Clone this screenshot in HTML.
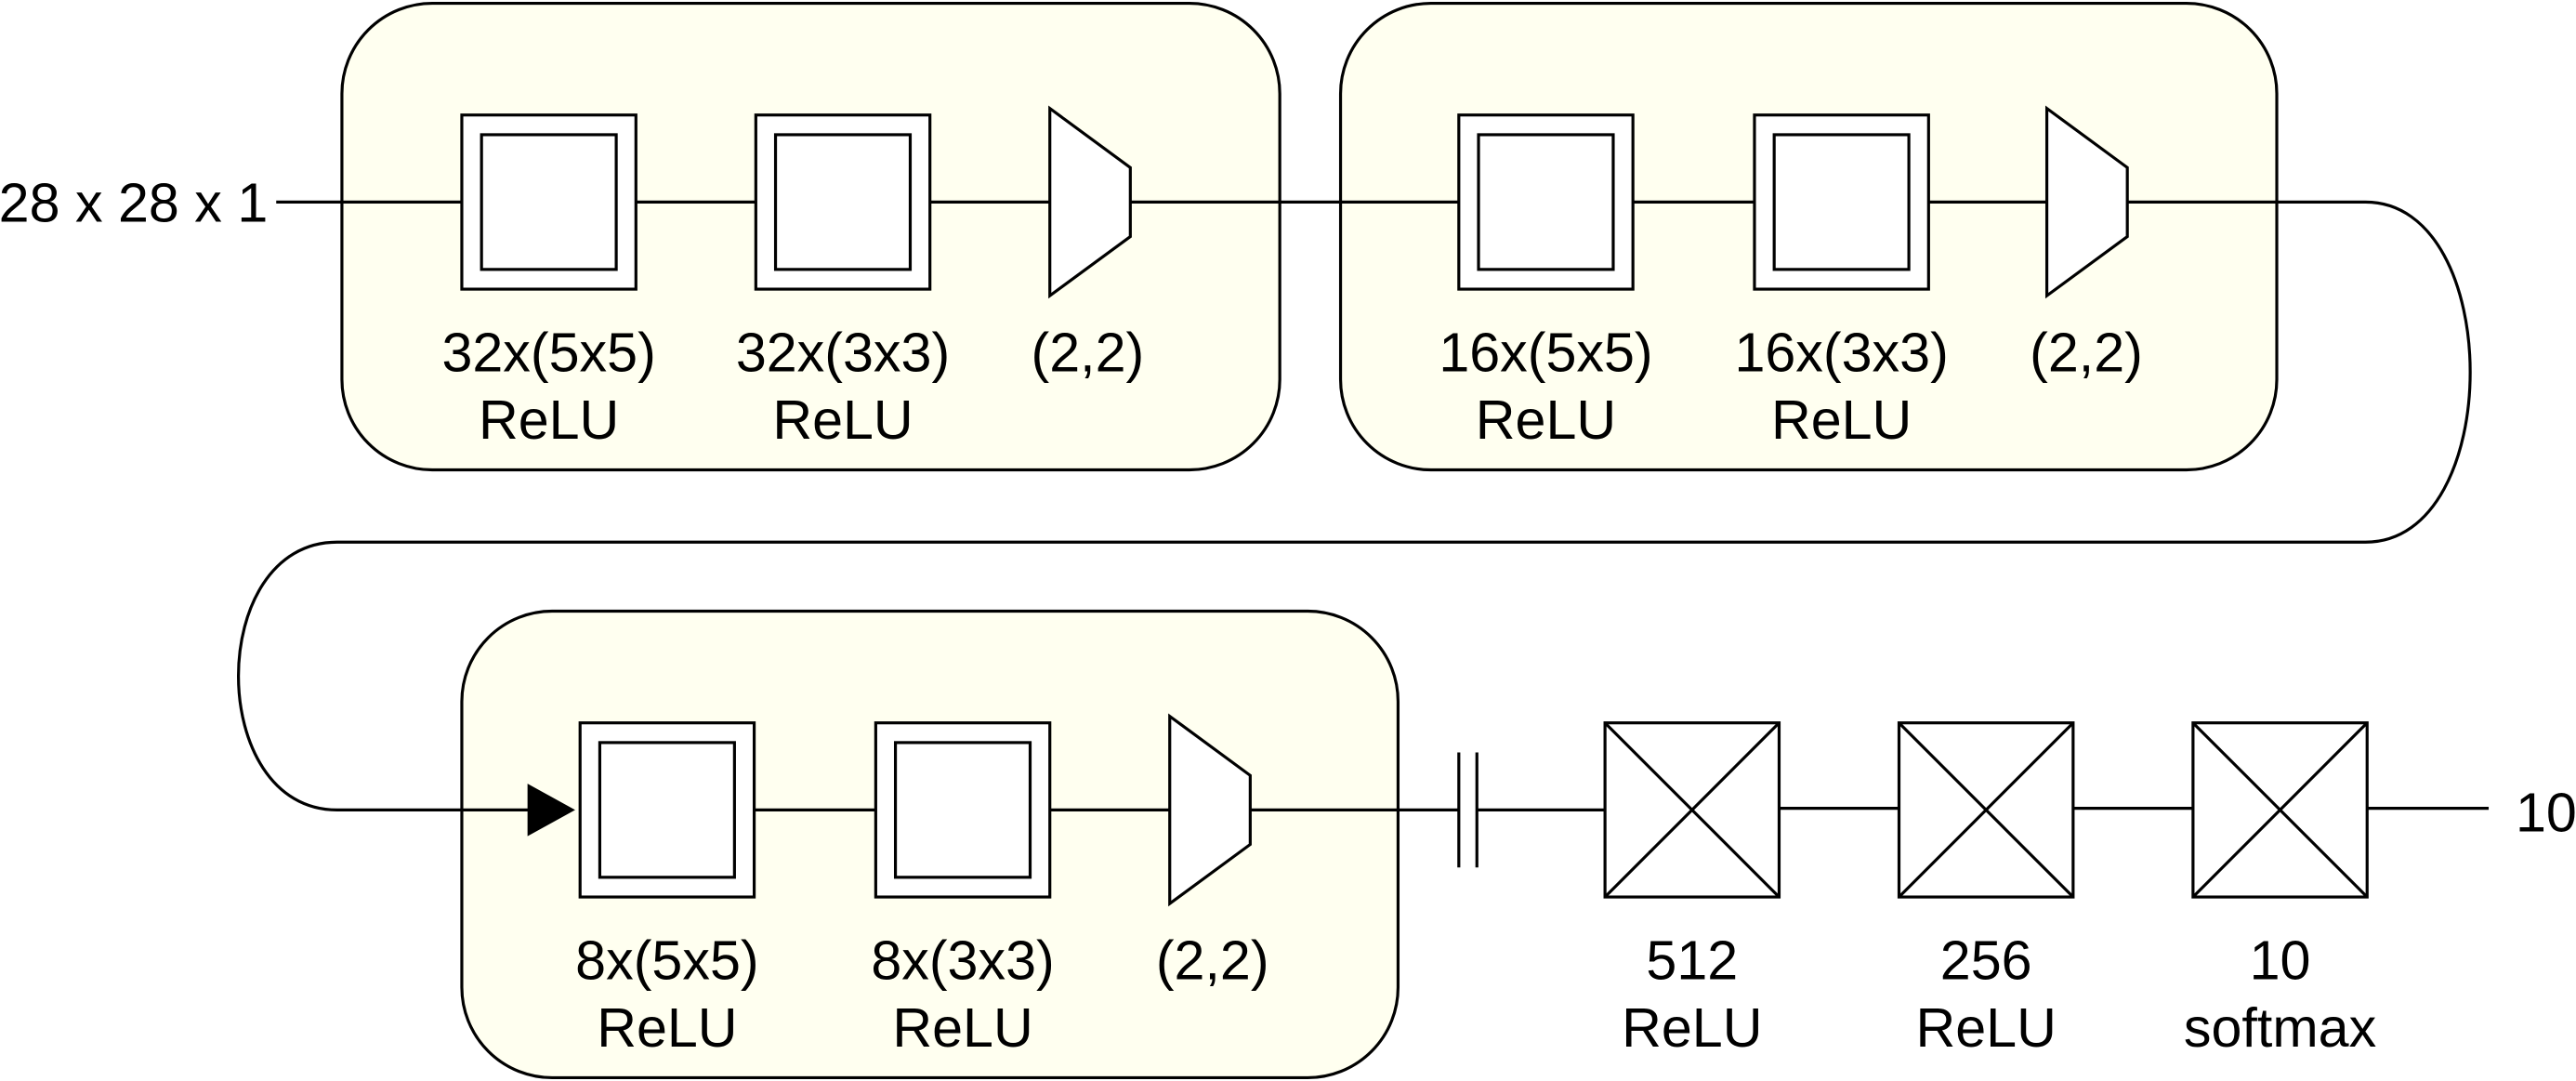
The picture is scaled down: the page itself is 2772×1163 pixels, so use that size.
<!DOCTYPE html>
<html><head><style>html,body{margin:0;padding:0;background:#fff}svg{display:block}</style></head>
<body>
<svg width="2772" height="1163" viewBox="0 0 1568 658" xmlns="http://www.w3.org/2000/svg">
<g stroke="#000" stroke-width="1.8" fill="none">
<rect x="208" y="2" width="571" height="284" rx="55" fill="#fffff0"/>
<rect x="816" y="2" width="570" height="284" rx="55" fill="#fffff0"/>
<rect x="281" y="372" width="570" height="284" rx="55" fill="#fffff0"/>
<path d="M168 123H281M387 123H460M566 123H639M688 123H888M994 123H1068M1174 123H1246M1295 123H1440C1525 123 1525 330 1440 330H205C125 330 125 493 205 493H322"/>
<path d="M459 493H533M639 493H712M761 493H888M899 493H977M1083 492H1156M1262 492H1335M1441 492H1515"/>
<path d="M888 458V528M899 458V528"/>
<g fill="#fff">
<rect x="281" y="70" width="106" height="106"/><rect x="293" y="82" width="82" height="82"/>
<rect x="460" y="70" width="106" height="106"/><rect x="472" y="82" width="82" height="82"/>
<rect x="888" y="70" width="106" height="106"/><rect x="900" y="82" width="82" height="82"/>
<rect x="1068" y="70" width="106" height="106"/><rect x="1080" y="82" width="82" height="82"/>
<rect x="353" y="440" width="106" height="106"/><rect x="365" y="452" width="82" height="82"/>
<rect x="533" y="440" width="106" height="106"/><rect x="545" y="452" width="82" height="82"/>
<path d="M639 66L688 102V144L639 180Z"/>
<path d="M1246 66L1295 102V144L1246 180Z"/>
<path d="M712 436L761 472V514L712 550Z"/>
<rect x="977" y="440" width="106" height="106"/><path d="M977 440L1083 546M1083 440L977 546"/>
<rect x="1156" y="440" width="106" height="106"/><path d="M1156 440L1262 546M1262 440L1156 546"/>
<rect x="1335" y="440" width="106" height="106"/><path d="M1335 440L1441 546M1441 440L1335 546"/>
</g>
</g>
<path d="M321 477L350 493L321 509Z" fill="#000"/>
<g font-family="Liberation Sans, sans-serif" font-size="33.5" text-anchor="middle" fill="#000">
<text x="81" y="135">28 x 28 x 1</text>
<text x="334" y="226">32x(5x5)</text><text x="334" y="267">ReLU</text>
<text x="513" y="226">32x(3x3)</text><text x="513" y="267">ReLU</text>
<text x="662" y="226">(2,2)</text>
<text x="941" y="226">16x(5x5)</text><text x="941" y="267">ReLU</text>
<text x="1121" y="226">16x(3x3)</text><text x="1121" y="267">ReLU</text>
<text x="1270" y="226">(2,2)</text>
<text x="406" y="596">8x(5x5)</text><text x="406" y="637">ReLU</text>
<text x="586" y="596">8x(3x3)</text><text x="586" y="637">ReLU</text>
<text x="738" y="596">(2,2)</text>
<text x="1030" y="596">512</text><text x="1030" y="637">ReLU</text>
<text x="1209" y="596">256</text><text x="1209" y="637">ReLU</text>
<text x="1388" y="596">10</text><text x="1388" y="637">softmax</text>
<text x="1550" y="506">10</text>
</g>
</svg>
</body></html>
